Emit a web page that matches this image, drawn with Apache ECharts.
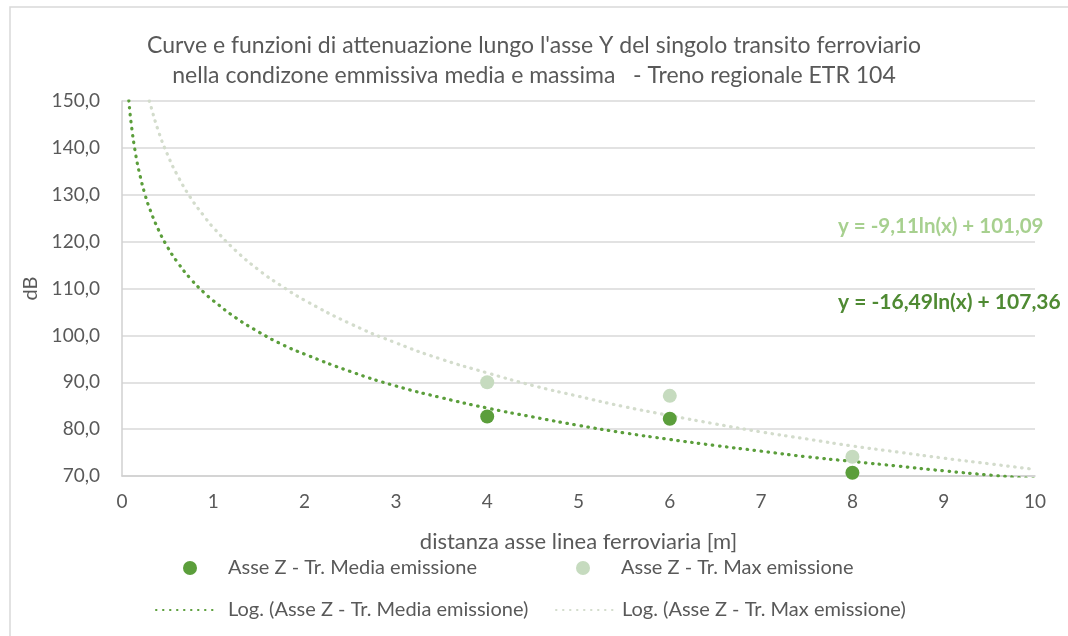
<!DOCTYPE html>
<html>
<head>
<meta charset="utf-8">
<script src="https://cdn.jsdelivr.net/npm/echarts@6/dist/echarts.min.js"></script>
<style>html,body{margin:0;padding:0;background:#fff}#c{width:1068px;height:636px}</style>
</head>
<body>
<div id="c"></div>
<script>
// Observed points
const mediaX = [4, 6, 8];
const mediaY = [82.7, 82.2, 70.7];
const maxX = [4, 6, 8];
const maxY = [90.0, 87.1, 74.1];
// Trend curves
const trendMediaX = [0.075, 0.1, 0.15, 0.2, 0.25, 0.3, 0.4, 0.5, 0.6, 0.75, 0.9, 1, 1.25, 1.5, 1.75, 2, 2.5, 3, 3.5, 4, 4.5, 5, 5.5, 6, 6.5, 7, 7.5, 8, 8.5, 9, 9.5, 10];
const trendMediaY = [150.1, 145.3, 138.6, 133.9, 130.2, 127.2, 122.5, 118.8, 115.8, 112.1, 109.1, 107.4, 103.7, 100.7, 98.1, 96.0, 92.3, 89.2, 86.7, 84.5, 82.6, 80.8, 79.2, 77.8, 76.5, 75.3, 74.1, 73.1, 72.1, 71.1, 70.2, 69.4];
const trendMaxX = [0.28, 0.3, 0.4, 0.5, 0.6, 0.75, 0.9, 1, 1.25, 1.5, 1.75, 2, 2.5, 3, 3.5, 4, 4.5, 5, 5.5, 6, 6.5, 7, 7.5, 8, 8.5, 9, 9.5, 10];
const trendMaxY = [151.5, 150.0, 143.5, 138.5, 134.4, 129.4, 125.4, 123.0, 118.0, 113.9, 110.5, 107.5, 102.5, 98.4, 94.9, 92.0, 89.3, 87.0, 84.8, 82.9, 81.1, 79.4, 77.9, 76.4, 75.1, 73.8, 72.6, 71.4];
const yTicks = [70, 80, 90, 100, 110, 120, 130, 140, 150];
const xTicks = [0, 1, 2, 3, 4, 5, 6, 7, 8, 9, 10];
const titleText = "Curve e funzioni di attenuazione lungo l'asse Y del singolo transito ferroviario\nnella condizone emmissiva media e massima   - Treno regionale ETR 104";
const nameMedia = "Asse Z - Tr. Media emissione";
const nameMax = "Asse Z - Tr. Max emissione";
const nameLogMedia = "Log. (Asse Z - Tr. Media emissione)";
const nameLogMax = "Log. (Asse Z - Tr. Max emissione)";
const eqMax = "y = -9,11ln(x) + 101,09";
const eqMedia = "y = -16,49ln(x) + 107,36";

const zip = (a, b) => a.map((v, i) => [v, b[i]]);
const FONT = "Lato, 'Open Sans', sans-serif";
const TXT = '#595959';
const C_DARK = '#5b9e3b';
const C_LIGHT = '#c6dbbf';
const C_LDOT = '#d3dccc';

const chart = echarts.init(document.getElementById('c'));
const noSym = {opacity: 0, color: 'transparent', borderWidth: 0};
function legendAt(name, left, top, w, gap, extra) {
  const o = {
    data: [Object.assign({name: name}, extra || {})],
    left: left, top: top, padding: 0, itemWidth: w, itemHeight: 14,
    textStyle: {color: TXT, fontFamily: FONT, fontSize: 20}
  };
  if (gap > 0) {
    o.formatter = n => '{g|}' + n;
    o.textStyle.rich = {g: {width: gap}};
  }
  return o;
}
chart.setOption({
  animation: false,
  backgroundColor: '#fff',
  title: {
    text: titleText, left: 'center', top: 26,
    textStyle: {color: TXT, fontFamily: FONT, fontSize: 23, fontWeight: 'normal', lineHeight: 30}
  },
  grid: {left: 122, right: 33, top: 101, bottom: 160},
  xAxis: {
    type: 'value', min: 0, max: 10, interval: 1,
    name: 'distanza asse linea ferroviaria [m]', nameLocation: 'middle', nameGap: 55,
    nameTextStyle: {color: TXT, fontFamily: FONT, fontSize: 22},
    axisLine: {show: true, lineStyle: {color: '#d0d0d0', width: 1.5}},
    axisTick: {show: false},
    splitLine: {show: false},
    axisLabel: {color: TXT, fontFamily: FONT, fontSize: 19, margin: 16, formatter: v => xTicks.includes(v) ? String(v) : ''}
  },
  yAxis: {
    type: 'value', min: 70, max: 150, interval: 10,
    name: 'dB', nameLocation: 'middle', nameGap: 74,
    nameTextStyle: {color: TXT, fontFamily: FONT, fontSize: 20},
    axisLine: {show: true, lineStyle: {color: '#d0d0d0', width: 1.5}},
    axisTick: {show: false},
    splitLine: {show: true, lineStyle: {color: '#d9d9d9', width: 1.5}},
    axisLabel: {color: TXT, fontFamily: FONT, fontSize: 19, margin: 22,
      formatter: v => yTicks.includes(v) ? v.toFixed(1).replace('.', ',') : ''}
  },
  legend: [
    legendAt(nameMedia, 183, 558, 14, 26, {icon: 'circle'}),
    legendAt(nameMax, 576, 558, 14, 26, {icon: 'circle'}),
    legendAt(nameLogMedia, 155, 600, 62, 5, {itemStyle: noSym}),
    legendAt(nameLogMax, 555, 600, 57, 4, {itemStyle: noSym})
  ],
  graphic: [
    {type: 'rect', shape: {x: 10, y: 7, width: 1100, height: 700}, style: {fill: 'none', stroke: '#d9d9d9', lineWidth: 1.5}, silent: true},
    {type: 'text', left: 838, top: 216, style: {text: eqMax, fill: '#a7d08f', font: "bold 20.5px Lato, sans-serif"}},
    {type: 'text', left: 838, top: 292, style: {text: eqMedia, fill: '#4f8a33', font: "bold 21px Lato, sans-serif"}}
  ],
  series: [
    {name: nameLogMedia, type: 'line', data: zip(trendMediaX, trendMediaY), smooth: true,
     symbol: 'none', clip: true, z: 2, itemStyle: {color: C_DARK},
     lineStyle: {color: C_DARK, width: 3.2, type: [0.5, 6.5], cap: 'round'}},
    {name: nameLogMax, type: 'line', data: zip(trendMaxX, trendMaxY), smooth: true,
     symbol: 'none', clip: true, z: 2, itemStyle: {color: C_LDOT},
     lineStyle: {color: C_LDOT, width: 3.2, type: [0.5, 6.5], cap: 'round'}},
    {name: nameMedia, type: 'scatter', data: zip(mediaX, mediaY), symbolSize: 14, z: 3, itemStyle: {color: C_DARK, opacity: 1}},
    {name: nameMax, type: 'scatter', data: zip(maxX, maxY), symbolSize: 14, z: 3, itemStyle: {color: C_LIGHT, opacity: 1}}
  ]
});
</script>
</body>
</html>
